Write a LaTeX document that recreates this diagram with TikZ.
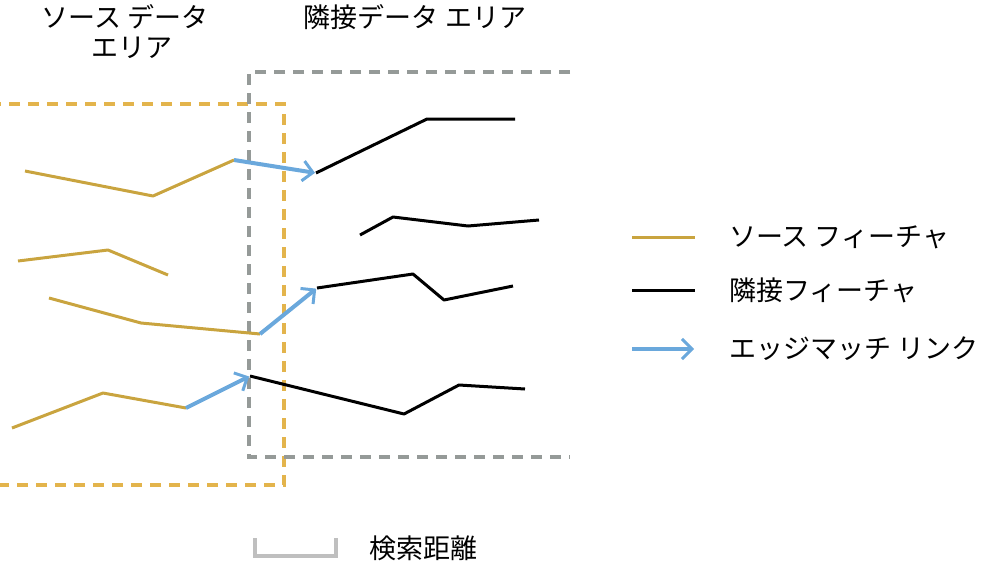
\documentclass[tikz,border=0pt]{standalone}
\usepackage{fontspec}
\setmainfont{Noto Sans CJK JP}
\usetikzlibrary{arrows.meta}
\definecolor{srcgold}{HTML}{C9A43F}
\definecolor{boxgold}{HTML}{E3B44C}
\definecolor{boxgray}{HTML}{959A98}
\definecolor{linkblue}{HTML}{6AA8DC}
\definecolor{brgray}{HTML}{BFBFBF}
\tikzset{
  srcline/.style={draw=srcgold, line width=3pt, line join=round},
  adjline/.style={draw=black, line width=3pt, line join=round},
  linkarrow/.style={draw=linkblue, line width=4pt, -{Straight Barb[length=10pt,width=20pt,line width=3pt]}, shorten >=1pt},
  areabox/.style={dash pattern=on 11pt off 8pt, line width=3.2pt},
  lbl/.style={font=\fontsize{27pt}{30pt}\selectfont, inner sep=0pt, align=center},
}
\begin{document}
\begin{tikzpicture}[x=1pt,y=-1pt]
\useasboundingbox (0,0) rectangle (982,574);
% area boxes
\draw[areabox, draw=boxgold] (-10,104) -- (284,104) -- (284,485) -- (-10,485);
\draw[areabox, draw=boxgray] (570,72) -- (249,72) -- (249,457) -- (570,457);
% titles
\node[lbl] (t1) at (125,32) {ソース データ\\\hspace{14pt}エリア};
\node[lbl] (t2) at (415,17) {隣接データ エリア};
% source features
\coordinate (s1a) at (25,171); \coordinate (s1b) at (153,196); \coordinate (s1c) at (234,160);
\coordinate (s2a) at (18,261); \coordinate (s2b) at (108,250); \coordinate (s2c) at (168,275);
\coordinate (s3a) at (49,298); \coordinate (s3b) at (141,323); \coordinate (s3c) at (260,334);
\coordinate (s4a) at (12,428); \coordinate (s4b) at (103,393); \coordinate (s4c) at (186,408);
\draw[srcline] (s1a) -- (s1b) -- (s1c);
\draw[srcline] (s2a) -- (s2b) -- (s2c);
\draw[srcline] (s3a) -- (s3b) -- (s3c);
\draw[srcline] (s4a) -- (s4b) -- (s4c);
% adjacent features
\coordinate (a1a) at (316,173); \coordinate (a1b) at (427,119); \coordinate (a1c) at (515,119);
\coordinate (a2a) at (360,235); \coordinate (a2b) at (393,217); \coordinate (a2c) at (468,226); \coordinate (a2d) at (539,220);
\coordinate (a3a) at (317,288); \coordinate (a3b) at (413,274); \coordinate (a3c) at (444,300); \coordinate (a3d) at (513,286);
\coordinate (a4a) at (250,376); \coordinate (a4b) at (404,414); \coordinate (a4c) at (459,385); \coordinate (a4d) at (525,389);
\draw[adjline] (a1a) -- (a1b) -- (a1c);
\draw[adjline] (a2a) -- (a2b) -- (a2c) -- (a2d);
\draw[adjline] (a3a) -- (a3b) -- (a3c) -- (a3d);
\draw[adjline] (a4a) -- (a4b) -- (a4c) -- (a4d);
% links
\draw[linkarrow] (s1c) -- (a1a);
\draw[linkarrow] (s3c) -- (a3a);
\draw[linkarrow] (s4c) -- (a4a);
% legend
\coordinate (l1a) at (632,237); \coordinate (l1b) at (695,237);
\coordinate (l2a) at (632,290); \coordinate (l2b) at (695,290);
\coordinate (l3a) at (632,349); \coordinate (l3b) at (695,349);
\draw[srcline] (l1a) -- (l1b);
\draw[adjline] (l2a) -- (l2b);
\draw[linkarrow] (l3a) -- (l3b);
\node[lbl, anchor=west] (lt1) at (729,237) {ソース フィーチャ};
\node[lbl, anchor=west] (lt2) at (729,290) {隣接フィーチャ};
\node[lbl, anchor=west] (lt3) at (729,349) {エッジマッチ リンク};
% search distance bracket
\coordinate (b1) at (255,538); \coordinate (b2) at (255,556); \coordinate (b3) at (336,556); \coordinate (b4) at (336,538);
\draw[draw=brgray, line width=4pt] (b1) -- (b2) -- (b3) -- (b4);
\node[lbl, anchor=west] (bt) at (369,548) {検索距離};
\end{tikzpicture}
\end{document}
